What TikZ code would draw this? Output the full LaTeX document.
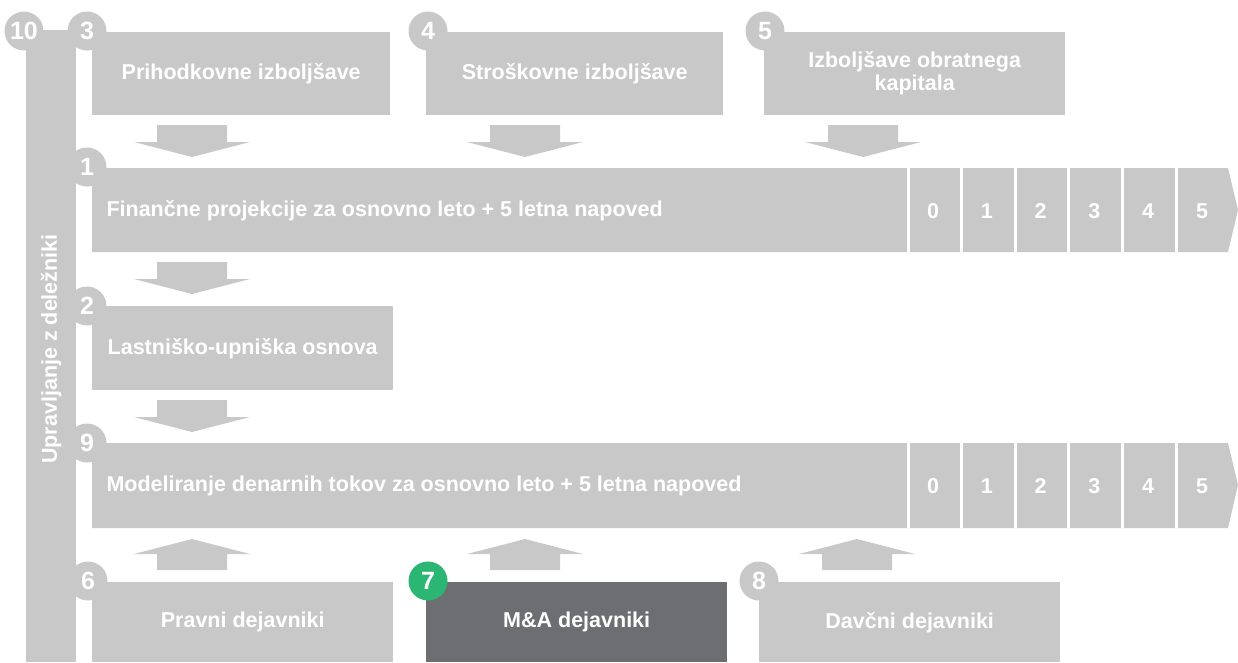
\documentclass[tikz,border=0pt]{standalone}
\usepackage{fontspec}
\setmainfont{Liberation Sans}
\definecolor{panelgrey}{HTML}{C8C8C8}
\definecolor{panelslate}{HTML}{6D6E71}
\definecolor{dotgreen}{HTML}{2BB673}
\begin{document}
\begin{tikzpicture}[x=1pt,y=-1pt,
  every node/.style={font=\fontsize{21.5}{23}\selectfont\bfseries, text=white},
  panel/.style={fill=panelgrey, inner sep=0pt, anchor=north west, align=center},
  numdot/.style={circle, fill=panelgrey, minimum size=39pt, inner sep=0pt,
    font=\fontsize{25}{26}\selectfont\bfseries},
  downarr/.pic={\fill[panelgrey] (-35,0) -- (35,0) -- (35,17) -- (58,17) -- (0,32) -- (-58,17) -- (-35,17) -- cycle;},
  uparr/.pic={\fill[panelgrey] (-35,0) -- (35,0) -- (35,-16) -- (58,-16) -- (0,-31) -- (-58,-16) -- (-35,-16) -- cycle;},
  sep/.style={white, line width=3pt}
]
\useasboundingbox (0,0) rectangle (1238,662);

% stakeholder management bar on the left
\node[panel, minimum width=50pt, minimum height=632pt] (b10) at (26,30) {};
\node[rotate=90] (t10) at (51,349) {Upravljanje z deležniki};
\node[numdot] (c10) at (24,31) {10};

% top row of improvement boxes
\node[panel, minimum width=298pt, minimum height=83pt] (b3) at (92,32) {Prihodkovne izboljšave};
\node[numdot] (c3) at (87,31) {3};
\node[panel, minimum width=297pt, minimum height=83pt] (b4) at (426,32) {Stroškovne izboljšave};
\node[numdot] (c4) at (428,31) {4};
\node[panel, minimum width=301pt, minimum height=83pt] (b5) at (764,32) {Izboljšave obratnega\\kapitala};
\node[numdot] (c5) at (765,31) {5};

% financial projections bar with year cells
\fill[panelgrey] (92,168) -- (1228,168) -- (1238,210) -- (1228,252) -- (92,252) -- cycle;
\node[anchor=west] (b1) at (103,211) {Finančne projekcije za osnovno leto + 5 letna napoved};
\node[numdot] (c1) at (87,167) {1};
\foreach \i in {0,...,5} {
  \draw[sep] (908+53.6*\i,168) -- (908+53.6*\i,252);
  \node (y1\i) at (933+53.8*\i,211) {\i};
}

% equity/debt basis
\node[panel, minimum width=301pt, minimum height=84pt] (b2) at (92,306) {Lastniško-upniška osnova};
\node[numdot] (c2) at (87,306) {2};

% cash-flow modelling bar with year cells
\fill[panelgrey] (92,443) -- (1228,443) -- (1238,485) -- (1228,528) -- (92,528) -- cycle;
\node[anchor=west] (b9) at (103,486) {Modeliranje denarnih tokov za osnovno leto + 5 letna napoved};
\node[numdot] (c9) at (87,443) {9};
\foreach \i in {0,...,5} {
  \draw[sep] (908+53.6*\i,443) -- (908+53.6*\i,528);
  \node (y9\i) at (933+53.8*\i,486) {\i};
}

% bottom row of factor boxes
\node[panel, minimum width=301pt, minimum height=80pt] (b6) at (92,582) {Pravni dejavniki};
\node[numdot] (c6) at (88,581) {6};
\node[panel, fill=panelslate, minimum width=301pt, minimum height=80pt] (b7) at (426,582) {M\&A dejavniki};
\node[numdot, fill=dotgreen] (c7) at (428,581) {7};
\node[panel, minimum width=301pt, minimum height=80pt] (b8) at (759,582) {Davčni dejavniki};
\node[numdot] (c8) at (759,581) {8};

% block arrows
\pic at (192,125) {downarr};
\pic at (525,125) {downarr};
\pic at (863,125) {downarr};
\pic at (192,262) {downarr};
\pic at (192,400) {downarr};
\pic at (192,570) {uparr};
\pic at (525,570) {uparr};
\pic at (857,570) {uparr};
\end{tikzpicture}
\end{document}
